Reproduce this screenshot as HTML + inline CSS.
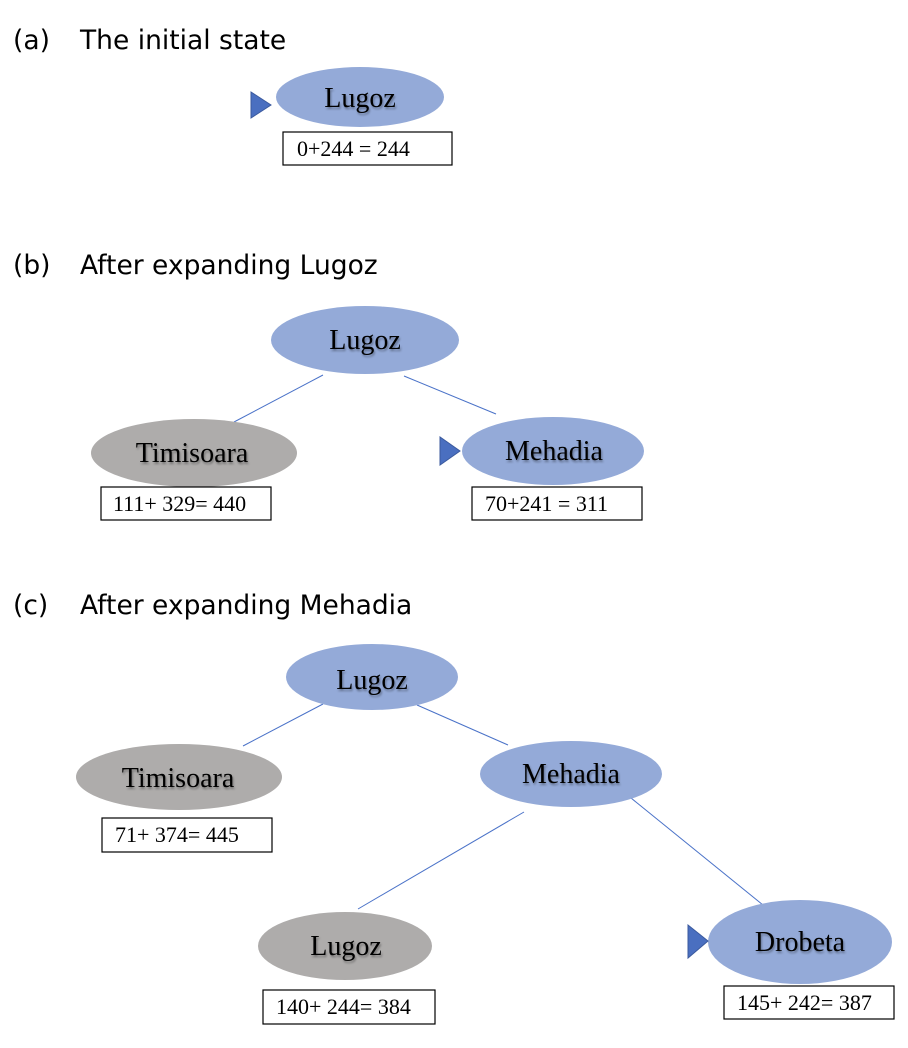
<!DOCTYPE html>
<html><head><meta charset="utf-8"><style>
html,body{margin:0;padding:0;background:#fff;width:908px;height:1048px;overflow:hidden}
svg{display:block}
.h{font-family:"DejaVu Sans","Liberation Sans",sans-serif;font-size:26.5px;fill:#000}
.n{font-family:"Liberation Serif",serif;font-size:28px;fill:#000;text-anchor:middle}
.b{font-family:"Liberation Serif",serif;font-size:22px;fill:#000}
.bl{fill:#94aad8}.gr{fill:#aeacab}
.bx{fill:#fff;stroke:#000;stroke-width:1.2}
.ln{stroke:#4a72c8;stroke-width:1}
.tr{fill:#4a6fc0;stroke:#3b5a9e;stroke-width:1}
</style></head><body>
<svg width="908" height="1048" viewBox="0 0 908 1048">
<defs><filter id="s" x="-10%" y="-10%" width="130%" height="130%"><feDropShadow dx="1" dy="2" stdDeviation="1" flood-color="#000" flood-opacity="0.35"/></filter></defs>
<text class="h" x="13" y="49">(a)</text><text class="h" x="80" y="49">The initial state</text>
<text class="h" x="13" y="274">(b)</text><text class="h" x="80" y="274">After expanding Lugoz</text>
<text class="h" x="13" y="614">(c)</text><text class="h" x="80" y="614">After expanding Mehadia</text>

<!-- a -->
<ellipse class="bl" cx="360" cy="97" rx="84" ry="30"/>
<text class="n" x="360" y="107" filter="url(#s)">Lugoz</text>
<polygon class="tr" points="251,92 251,118 271,105"/>
<rect class="bx" x="283" y="132" width="169" height="33"/>
<text class="b" x="297" y="156">0+244 = 244</text>

<!-- b -->
<line class="ln" x1="323" y1="375" x2="234" y2="422"/>
<line class="ln" x1="404" y1="376" x2="496" y2="414"/>
<ellipse class="bl" cx="365" cy="340" rx="94" ry="34"/>
<text class="n" x="365" y="349" filter="url(#s)">Lugoz</text>
<ellipse class="gr" cx="194" cy="453" rx="103" ry="34"/>
<text class="n" x="192" y="462" filter="url(#s)">Timisoara</text>
<ellipse class="bl" cx="553" cy="451" rx="91" ry="34"/>
<text class="n" x="554" y="460" filter="url(#s)">Mehadia</text>
<polygon class="tr" points="440,437 440,465 460,451"/>
<rect class="bx" x="101" y="487" width="170" height="33"/>
<text class="b" x="113" y="511">111+ 329= 440</text>
<rect class="bx" x="472" y="487" width="170" height="33"/>
<text class="b" x="485" y="511">70+241 = 311</text>

<!-- c -->
<line class="ln" x1="323" y1="704" x2="243" y2="746"/>
<line class="ln" x1="417" y1="705" x2="508" y2="745"/>
<line class="ln" x1="524" y1="812" x2="358" y2="909"/>
<line class="ln" x1="631" y1="798" x2="763" y2="905"/>
<ellipse class="bl" cx="372" cy="677" rx="86" ry="33"/>
<text class="n" x="372" y="689" filter="url(#s)">Lugoz</text>
<ellipse class="gr" cx="179" cy="777" rx="103" ry="33"/>
<text class="n" x="178" y="787" filter="url(#s)">Timisoara</text>
<ellipse class="bl" cx="571" cy="774" rx="91" ry="33"/>
<text class="n" x="571" y="783" filter="url(#s)">Mehadia</text>
<rect class="bx" x="102" y="818" width="170" height="34"/>
<text class="b" x="115" y="842">71+ 374= 445</text>
<ellipse class="gr" cx="345" cy="946" rx="87" ry="34"/>
<text class="n" x="346" y="955" filter="url(#s)">Lugoz</text>
<ellipse class="bl" cx="800" cy="942" rx="92" ry="42"/>
<text class="n" x="800" y="951" filter="url(#s)">Drobeta</text>
<polygon class="tr" points="688,925 688,958 708,941"/>
<rect class="bx" x="263" y="990" width="172" height="34"/>
<text class="b" x="276" y="1014">140+ 244= 384</text>
<rect class="bx" x="724" y="986" width="170" height="33"/>
<text class="b" x="737" y="1010">145+ 242= 387</text>
</svg>
</body></html>
